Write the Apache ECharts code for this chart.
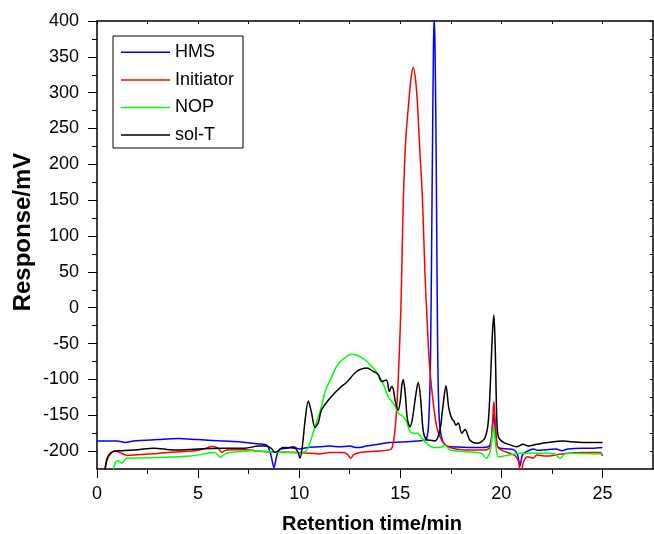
<!DOCTYPE html>
<html>
<head>
<meta charset="utf-8">
<script src="https://cdn.jsdelivr.net/npm/echarts@6/dist/echarts.min.js"></script>
<style>
html,body{margin:0;padding:0;background:#fff;}
#c{width:654px;height:534px;}
</style>
</head>
<body>
<div id="c"></div>
<script>
// ---- data (retention time in min, response in mV) ----
var seriesNames = ['HMS', 'Initiator', 'NOP', 'sol-T'];
var seriesColors = ['#0000ff', '#ff0000', '#00ff00', '#000000'];

var hmsT = [0, 1.0, 1.4, 1.8, 3.0, 4.0, 5.0, 6.0, 7.0, 8.0, 8.4, 8.6, 8.75, 8.9, 9.05, 9.4, 9.7, 10.0, 10.5, 11.0, 11.5, 12.0, 12.5, 12.8, 13.0, 13.3, 14.0, 14.5, 15.0, 15.5, 16.0, 16.3, 16.42, 16.5, 16.57, 16.64, 16.68, 16.72, 16.78, 16.85, 16.92, 17.05, 17.3, 17.6, 18.0, 18.5, 19.1, 19.4, 19.52, 19.58, 19.63, 19.7, 19.8, 19.95, 20.3, 20.6, 20.8, 20.92, 21.05, 21.3, 21.58, 21.8, 22.2, 22.7, 23.0, 23.3, 24.0, 24.5, 25.0];
var hmsV = [-186, -186, -188, -186, -184, -182.5, -184, -185.5, -187, -190, -192, -205, -223, -205, -197, -196, -194, -197, -194.5, -194, -193, -194, -193, -195, -195, -193, -190, -188, -187.5, -186.5, -185.5, -183, -150, -60, 150, 360, 405, 360, 200, -60, -150, -182, -193, -194, -194.5, -195, -195, -193, -180, -160, -148, -170, -193, -196, -197, -198, -205, -221, -205, -200, -197, -199, -198, -197, -199.5, -197, -196, -196, -195];

var initT = [0.35, 0.5, 0.7, 0.9, 1.2, 1.5, 2.0, 3.0, 4.0, 4.8, 5.3, 5.7, 6.0, 6.17, 6.35, 6.6, 7.3, 8.2, 9.0, 9.8, 10.5, 11.0, 11.5, 12.2, 12.4, 12.55, 12.7, 13.0, 14.0, 14.5, 14.6, 14.7, 14.8, 14.9, 14.97, 15.03, 15.08, 15.15, 15.27, 15.43, 15.53, 15.64, 15.76, 15.86, 15.94, 16.1, 16.22, 16.35, 16.43, 16.58, 16.8, 17.05, 17.37, 18.3, 19.2, 19.45, 19.55, 19.63, 19.7, 19.8, 19.95, 20.4, 20.7, 20.85, 20.95, 21.1, 21.3, 21.58, 21.75, 22.2, 23.0, 24.0, 24.9, 25.0];
var initV = [-235, -212, -203, -200, -203, -206, -205, -203.5, -201, -199.5, -197, -193.5, -196, -202, -199, -198, -198, -200.5, -201.5, -202, -203, -204, -202, -202, -205, -210, -205, -202, -200, -198, -195, -180, -150, -100, -50, 0, 60, 150, 234, 290, 320, 335, 317, 280, 234, 150, 48, -30, -73, -120, -166, -185, -194, -198.5, -198.5, -194, -165, -131, -160, -193, -198, -203, -207, -215, -232, -215, -208, -210, -205.5, -207, -204, -202, -202, -207];

var nopT = [0.78, 0.9, 1.05, 1.22, 1.47, 2.0, 3.0, 4.6, 5.5, 5.8, 6.1, 6.4, 7.0, 7.6, 8.9, 9.5, 10.2, 10.4, 10.55, 10.8, 11.1, 11.3, 11.52, 11.85, 12.2, 12.6, 13.0, 13.35, 13.7, 14.0, 14.25, 14.4, 14.7, 14.9, 15.15, 15.3, 15.48, 15.65, 15.85, 16.06, 16.3, 16.63, 16.96, 17.2, 17.46, 18.3, 19.0, 19.25, 19.45, 19.55, 19.62, 19.7, 19.85, 20.3, 21.0, 22.0, 22.6, 22.9, 23.2, 24.0, 25.0];
var nopV = [-235, -216, -213.5, -217, -210, -209.5, -209, -207, -203, -201.5, -208.5, -203, -201, -199.5, -201.5, -202, -201.5, -198, -187, -165, -138, -115, -102, -82, -71, -65, -68, -75, -85, -97, -113, -124, -135, -147, -152, -158, -173, -175, -175, -182, -189, -195, -195, -192, -198.5, -201, -203, -210, -200, -178, -167, -185, -208, -206, -203, -203, -203.5, -210, -203, -203.5, -204];

var solT = [0.35, 0.5, 0.7, 0.9, 1.2, 2.0, 2.8, 3.8, 5.0, 6.2, 7.3, 8.0, 8.4, 8.65, 8.8, 8.95, 9.2, 9.8, 9.95, 10.04, 10.15, 10.3, 10.45, 10.6, 10.78, 10.95, 11.1, 11.5, 12.0, 12.35, 12.84, 13.34, 13.67, 13.9, 14.08, 14.24, 14.33, 14.46, 14.57, 14.65, 14.75, 14.9, 15.0, 15.08, 15.15, 15.25, 15.35, 15.48, 15.6, 15.75, 15.89, 16.0, 16.14, 16.3, 16.5, 16.72, 16.96, 17.1, 17.26, 17.4, 17.55, 17.65, 17.75, 17.87, 18.04, 18.2, 18.45, 18.78, 19.0, 19.2, 19.35, 19.45, 19.55, 19.63, 19.7, 19.77, 19.85, 20.1, 20.4, 20.75, 21.08, 21.33, 21.75, 22.3, 23.06, 23.5, 24.0, 25.0];
var solV = [-235, -210, -202, -200, -199.5, -198, -196, -198.5, -197, -196, -196, -193, -193, -197, -202, -200, -195, -196, -202, -210, -195, -155, -130, -145, -167, -160, -143, -127, -112, -104, -89, -84, -89, -93, -103, -101.5, -101, -117, -110, -113, -130, -143, -130, -108, -100, -122, -155, -166, -155, -125, -104, -125, -173, -184, -185, -186, -171, -140, -109, -140, -155, -158, -164, -161, -175, -170, -185, -189, -187, -181, -160, -110, -40, -10, -60, -150, -180, -188, -191, -194, -190.6, -193, -190.6, -188, -186, -187, -188, -188];

var xMajor = [0, 5, 10, 15, 20, 25];
var xMinor = [2.5, 7.5, 12.5, 17.5, 22.5];
var yMajor = [-200, -150, -100, -50, 0, 50, 100, 150, 200, 250, 300, 350, 400];
var yMinor = [-175, -125, -75, -25, 25, 75, 125, 175, 225, 275, 325, 375];
var xTitle = 'Retention time/min';
var yTitle = 'Response/mV';

// ---- build ----
function pairs(t, v) { return t.map(function (x, i) { return [x, v[i]]; }); }
var allT = [hmsT, initT, nopT, solT];
var allV = [hmsV, initV, nopV, solV];

var FONT = 'Liberation Sans, Arial, sans-serif';
var black = '#000';

function xAx(pos, ticks, len, inside, showLine, showLabel) {
  return {
    type: 'value', min: 0, max: 27.5, position: pos, gridIndex: 0,
    axisLine: { show: showLine, onZero: false, lineStyle: { color: black, width: 1.5 } },
    axisTick: { show: true, inside: inside, length: len, customValues: ticks, lineStyle: { color: black, width: 1 } },
    axisLabel: { show: showLabel, customValues: xMajor, color: black, fontSize: 18, fontFamily: FONT, margin: 16 },
    splitLine: { show: false }
  };
}
function yAx(pos, ticks, len, inside, showLine, showLabel) {
  return {
    type: 'value', min: -225, max: 400, position: pos, gridIndex: 0,
    axisLine: { show: showLine, onZero: false, lineStyle: { color: black, width: 1.5 } },
    axisTick: { show: true, inside: inside, length: len, customValues: ticks, lineStyle: { color: black, width: 1 } },
    axisLabel: { show: showLabel, customValues: yMajor, color: black, fontSize: 18, fontFamily: FONT, margin: 18 },
    splitLine: { show: false }
  };
}

var option = {
  animation: false,
  backgroundColor: '#fff',
  grid: { left: 97, right: 1, top: 21, bottom: 65, containLabel: false, outerBoundsMode: 'none' },
  xAxis: [
    xAx('bottom', xMajor, 9, false, true, true),
    xAx('bottom', xMinor, 5, false, false, false),
    xAx('top', xMajor.concat(xMinor), 3, true, true, false)
  ],
  yAxis: [
    yAx('left', yMajor, 9, false, true, true),
    yAx('left', yMinor, 5, false, false, false),
    yAx('right', yMajor.concat(yMinor), 3, true, true, false)
  ],
  legend: {
    orient: 'vertical', left: 113, top: 36,
    data: seriesNames.map(function (n) { return { name: n, icon: 'rect' }; }),
    itemWidth: 49, itemHeight: 1.5, itemGap: 9.6,
    padding: [7.3, 9, 3.9, 8],
    borderColor: black, borderWidth: 1,
    textStyle: { color: black, fontSize: 18, lineHeight: 18, fontFamily: FONT }
  },
  graphic: [
    { type: 'text', x: 372, y: 524, style: { text: xTitle, font: 'bold 20px ' + FONT, fill: black, align: 'center', verticalAlign: 'middle' } },
    { type: 'text', x: 23, y: 232, rotation: Math.PI / 2, style: { text: yTitle, font: 'bold 24px ' + FONT, fill: black, align: 'center', verticalAlign: 'middle' } }
  ],
  series: seriesNames.map(function (n, i) {
    return {
      name: n, type: 'line', xAxisIndex: 0, yAxisIndex: 0,
      data: pairs(allT[i], allV[i]),
      symbol: 'none', smooth: 0.3, clip: true,
      lineStyle: { color: seriesColors[i], width: 1.5 },
      itemStyle: { color: seriesColors[i] }
    };
  })
};

var chart = echarts.init(document.getElementById('c'), null, { renderer: 'canvas' });
chart.setOption(option);
</script>
</body>
</html>
